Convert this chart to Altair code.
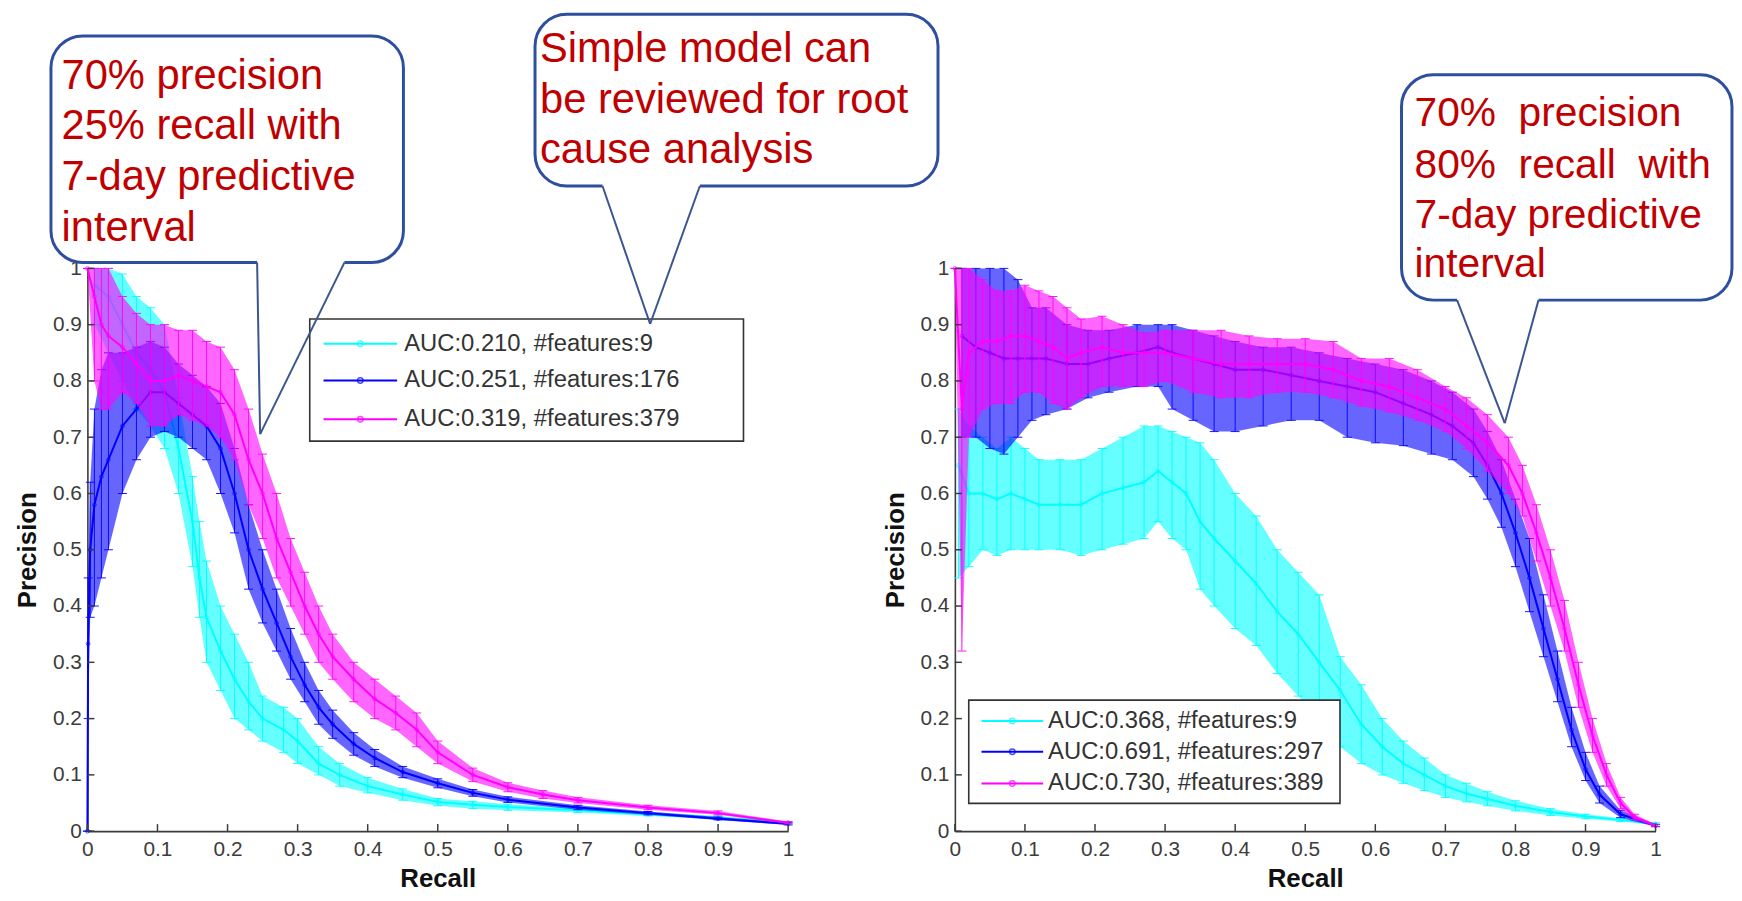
import altair as alt
import pandas as pd

# ---------------- data ----------------
SERIES = ["s9", "s_mid", "s_all"]
COLORS = ["#00FFFF", "#0000FF", "#FF00FF"]

LEFT_LABELS = ["AUC:0.210, #features:9", "AUC:0.251, #features:176", "AUC:0.319, #features:379"]
RIGHT_LABELS = ["AUC:0.368, #features:9", "AUC:0.691, #features:297", "AUC:0.730, #features:389"]

TICKS = [0, 0.1, 0.2, 0.3, 0.4, 0.5, 0.6, 0.7, 0.8, 0.9, 1]

# Left panel, cyan (9 features)
L1_R = [0.01, 0.03, 0.05, 0.07, 0.09, 0.11, 0.13, 0.15, 0.16, 0.17, 0.19, 0.21, 0.23, 0.25, 0.28, 0.30, 0.33, 0.36, 0.40, 0.45, 0.50, 0.55, 0.60, 0.70, 0.80, 0.90, 1.00]
L1_M = [0.97, 0.95, 0.90, 0.85, 0.82, 0.78, 0.68, 0.55, 0.45, 0.38, 0.32, 0.27, 0.23, 0.20, 0.18, 0.16, 0.12, 0.10, 0.08, 0.065, 0.052, 0.047, 0.043, 0.037, 0.030, 0.024, 0.015]
L1_LO = [0.90, 0.85, 0.80, 0.75, 0.72, 0.68, 0.60, 0.47, 0.38, 0.30, 0.25, 0.20, 0.18, 0.16, 0.14, 0.12, 0.10, 0.08, 0.068, 0.055, 0.045, 0.040, 0.037, 0.033, 0.027, 0.021, 0.013]
L1_HI = [1.00, 1.00, 0.99, 0.95, 0.93, 0.90, 0.77, 0.63, 0.55, 0.48, 0.40, 0.35, 0.30, 0.24, 0.22, 0.20, 0.15, 0.12, 0.095, 0.075, 0.058, 0.053, 0.048, 0.041, 0.034, 0.027, 0.017]

# Left panel, blue (176 features)
L2_R = [0.0, 0.001, 0.004, 0.01, 0.02, 0.03, 0.05, 0.07, 0.09, 0.11, 0.13, 0.15, 0.17, 0.19, 0.21, 0.23, 0.25, 0.27, 0.29, 0.31, 0.33, 0.35, 0.38, 0.41, 0.45, 0.50, 0.55, 0.60, 0.70, 0.80, 0.90, 1.00]
L2_M = [0.0, 0.333, 0.50, 0.58, 0.63, 0.66, 0.72, 0.75, 0.78, 0.78, 0.76, 0.74, 0.72, 0.68, 0.60, 0.50, 0.43, 0.37, 0.31, 0.26, 0.22, 0.19, 0.155, 0.13, 0.105, 0.085, 0.068, 0.056, 0.042, 0.032, 0.022, 0.013]
L2_LO = [0.0, 0.20, 0.38, 0.40, 0.45, 0.50, 0.60, 0.66, 0.70, 0.71, 0.70, 0.68, 0.66, 0.60, 0.53, 0.43, 0.37, 0.32, 0.27, 0.23, 0.19, 0.165, 0.135, 0.115, 0.095, 0.077, 0.062, 0.051, 0.038, 0.029, 0.020, 0.011]
L2_HI = [0.0, 0.45, 0.62, 0.75, 0.82, 0.85, 0.85, 0.86, 0.87, 0.86, 0.83, 0.81, 0.79, 0.76, 0.68, 0.58, 0.50, 0.43, 0.36, 0.30, 0.25, 0.215, 0.175, 0.145, 0.115, 0.093, 0.074, 0.061, 0.046, 0.035, 0.025, 0.015]

# Left panel, magenta (379 features)
L3_R = [0.0, 0.01, 0.02, 0.03, 0.05, 0.07, 0.09, 0.11, 0.13, 0.15, 0.17, 0.19, 0.21, 0.23, 0.25, 0.27, 0.29, 0.31, 0.33, 0.35, 0.38, 0.41, 0.44, 0.47, 0.50, 0.55, 0.60, 0.65, 0.70, 0.80, 0.90, 1.00]
L3_M = [1.0, 0.95, 0.90, 0.88, 0.86, 0.83, 0.80, 0.80, 0.81, 0.80, 0.79, 0.78, 0.74, 0.66, 0.60, 0.52, 0.46, 0.40, 0.35, 0.31, 0.27, 0.235, 0.21, 0.18, 0.14, 0.10, 0.078, 0.065, 0.055, 0.042, 0.032, 0.015]
L3_LO = [1.0, 0.80, 0.75, 0.75, 0.78, 0.76, 0.72, 0.72, 0.74, 0.73, 0.72, 0.70, 0.66, 0.58, 0.52, 0.45, 0.40, 0.35, 0.30, 0.27, 0.23, 0.20, 0.18, 0.15, 0.12, 0.088, 0.070, 0.058, 0.050, 0.038, 0.029, 0.013]
L3_HI = [1.0, 1.00, 1.00, 1.00, 0.95, 0.92, 0.90, 0.90, 0.89, 0.89, 0.87, 0.86, 0.82, 0.75, 0.67, 0.60, 0.52, 0.46, 0.40, 0.35, 0.30, 0.27, 0.24, 0.21, 0.16, 0.112, 0.086, 0.072, 0.060, 0.046, 0.036, 0.017]

# Right panel, cyan (9 features)
R1_R = [0.005, 0.02, 0.04, 0.06, 0.08, 0.10, 0.12, 0.15, 0.18, 0.21, 0.24, 0.27, 0.29, 0.31, 0.33, 0.35, 0.37, 0.40, 0.43, 0.46, 0.49, 0.52, 0.55, 0.58, 0.61, 0.64, 0.67, 0.70, 0.73, 0.76, 0.80, 0.85, 0.90, 0.95, 1.00]
R1_M = [0.65, 0.60, 0.60, 0.59, 0.60, 0.59, 0.58, 0.58, 0.58, 0.60, 0.61, 0.62, 0.64, 0.62, 0.60, 0.55, 0.52, 0.48, 0.44, 0.39, 0.35, 0.30, 0.25, 0.19, 0.15, 0.12, 0.10, 0.08, 0.067, 0.057, 0.045, 0.034, 0.026, 0.020, 0.013]
R1_LO = [0.45, 0.47, 0.50, 0.49, 0.50, 0.50, 0.50, 0.50, 0.49, 0.50, 0.51, 0.52, 0.55, 0.52, 0.50, 0.43, 0.40, 0.36, 0.33, 0.28, 0.24, 0.20, 0.15, 0.12, 0.10, 0.085, 0.072, 0.060, 0.052, 0.045, 0.036, 0.028, 0.022, 0.017, 0.011]
R1_HI = [0.75, 0.72, 0.70, 0.68, 0.70, 0.68, 0.66, 0.66, 0.66, 0.68, 0.70, 0.72, 0.72, 0.71, 0.70, 0.69, 0.66, 0.60, 0.56, 0.50, 0.46, 0.42, 0.31, 0.26, 0.20, 0.16, 0.13, 0.10, 0.085, 0.07, 0.054, 0.040, 0.030, 0.023, 0.015]

# Right panel, blue (297 features)
R2_R = [0.01, 0.03, 0.05, 0.07, 0.09, 0.11, 0.13, 0.16, 0.19, 0.22, 0.26, 0.29, 0.31, 0.34, 0.37, 0.40, 0.44, 0.48, 0.52, 0.56, 0.60, 0.64, 0.68, 0.71, 0.74, 0.76, 0.78, 0.80, 0.82, 0.84, 0.86, 0.88, 0.90, 0.92, 0.95, 1.00]
R2_M = [0.88, 0.86, 0.85, 0.84, 0.84, 0.84, 0.84, 0.83, 0.83, 0.84, 0.85, 0.86, 0.85, 0.84, 0.83, 0.82, 0.82, 0.81, 0.80, 0.79, 0.78, 0.76, 0.74, 0.72, 0.69, 0.65, 0.60, 0.53, 0.45, 0.36, 0.27, 0.18, 0.11, 0.065, 0.030, 0.010]
R2_LO = [0.70, 0.70, 0.68, 0.67, 0.70, 0.73, 0.74, 0.75, 0.77, 0.78, 0.79, 0.79, 0.75, 0.73, 0.71, 0.71, 0.72, 0.73, 0.73, 0.70, 0.69, 0.685, 0.67, 0.66, 0.63, 0.59, 0.54, 0.47, 0.39, 0.31, 0.23, 0.15, 0.09, 0.05, 0.024, 0.008]
R2_HI = [1.00, 1.00, 1.00, 1.00, 0.98, 0.93, 0.93, 0.90, 0.89, 0.89, 0.90, 0.90, 0.90, 0.89, 0.88, 0.87, 0.86, 0.86, 0.85, 0.84, 0.83, 0.82, 0.80, 0.78, 0.75, 0.71, 0.66, 0.59, 0.52, 0.42, 0.32, 0.22, 0.14, 0.08, 0.037, 0.012]

# Right panel, magenta (389 features)
R3_R = [0.0, 0.01, 0.02, 0.04, 0.06, 0.08, 0.10, 0.12, 0.14, 0.16, 0.18, 0.21, 0.24, 0.27, 0.30, 0.34, 0.38, 0.42, 0.46, 0.50, 0.54, 0.58, 0.62, 0.66, 0.70, 0.73, 0.76, 0.79, 0.81, 0.83, 0.85, 0.87, 0.89, 0.91, 0.93, 0.95, 0.97, 1.00]
R3_M = [1.0, 0.75, 0.85, 0.87, 0.87, 0.88, 0.88, 0.87, 0.86, 0.84, 0.85, 0.86, 0.85, 0.85, 0.85, 0.84, 0.83, 0.83, 0.83, 0.83, 0.82, 0.80, 0.79, 0.77, 0.75, 0.72, 0.69, 0.65, 0.60, 0.53, 0.45, 0.36, 0.26, 0.17, 0.10, 0.05, 0.025, 0.010]
R3_LO = [1.0, 0.32, 0.70, 0.75, 0.76, 0.76, 0.78, 0.78, 0.76, 0.75, 0.77, 0.79, 0.79, 0.79, 0.80, 0.78, 0.77, 0.77, 0.78, 0.78, 0.77, 0.755, 0.745, 0.73, 0.71, 0.68, 0.64, 0.60, 0.56, 0.48, 0.40, 0.32, 0.22, 0.14, 0.08, 0.04, 0.02, 0.008]
R3_HI = [1.0, 1.00, 1.00, 0.98, 0.96, 0.96, 0.97, 0.96, 0.95, 0.93, 0.91, 0.915, 0.90, 0.885, 0.89, 0.89, 0.89, 0.88, 0.875, 0.875, 0.87, 0.84, 0.84, 0.82, 0.79, 0.77, 0.74, 0.70, 0.65, 0.58, 0.50, 0.41, 0.30, 0.20, 0.12, 0.06, 0.03, 0.012]

# ---------------- annotation text ----------------
LEFT_NOTE = ["70% precision", "25% recall with", "7-day predictive", "interval"]
MID_NOTE = ["Simple model can", "be reviewed for root", "cause analysis"]
RIGHT_NOTE = ["70%\u00a0\u00a0precision", "80%\u00a0\u00a0recall\u00a0\u00a0with", "7-day predictive", "interval"]

# annotation placement, in the panels' own data units (recall, precision)
LEFT_CALLOUT = dict(box=(-0.052, 0.451, 1.0106, 1.413), base=(0.2422, 0.3669), tip=(0.2465, 0.7055),
                    tx=-0.037, ty=[1.3192, 1.2293, 1.1393, 1.0494])
MID_CALLOUT = dict(box=(0.6388, 1.2139, 1.1464, 1.4515), base=(0.7351, 0.874), tip=(0.8031, 0.9012),
                   tx=0.6459, ty=[1.3668, 1.2769, 1.1869])
RIGHT_CALLOUT = dict(box=(0.6374, 1.109, 0.9436, 1.344), base=(0.7167, 0.8329), tip=(0.7847, 0.7249),
                     tx=0.656, ty=[1.2522, 1.1605, 1.0723, 0.9841])
LEFT_LEGEND = dict(box=(0.3173, 0.9363, 0.693, 0.910), rows=[0.866, 0.8007, 0.732],
                   line=(0.337, 0.442), mark=0.3895, tx=0.452)
RIGHT_LEGEND = dict(box=(0.0198, 0.5496, 0.0494, 0.2328), rows=[0.1958, 0.1411, 0.0847],
                    line=(0.038, 0.126), mark=0.082, tx=0.133)

# ---------------- styling ----------------
SANS = "Liberation Sans, Arial, sans-serif"
NOTE_RED = "#C00000"
NAVY = "#2E4E9E"
AXIS_GRAY = "#3c3c3c"

XS = alt.Scale(domain=[0, 1], nice=False, zero=False)
YS = alt.Scale(domain=[0, 1], nice=False, zero=False)

X_AXIS = alt.Axis(values=TICKS, format="~g", title="Recall", grid=False, ticks=False,
                  domainColor=AXIS_GRAY, domainWidth=1.6, labelFont=SANS, labelFontSize=21,
                  labelColor=AXIS_GRAY, labelPadding=8, labelFlush=False, labelOverlap=False,
                  titleFont=SANS, titleFontSize=26, titleFontWeight="bold", titleColor="#111111",
                  titlePadding=6)
Y_AXIS = alt.Axis(values=TICKS, format="~g", title="Precision", grid=False, ticks=False,
                  domainColor=AXIS_GRAY, domainWidth=1.6, labelFont=SANS, labelFontSize=21,
                  labelColor=AXIS_GRAY, labelPadding=6, labelFlush=False, labelOverlap=False,
                  titleFont=SANS, titleFontSize=26, titleFontWeight="bold", titleColor="#111111",
                  titlePadding=12)


def X(f):
    return alt.X(f, type="quantitative", scale=XS, axis=X_AXIS)


def Y(f):
    return alt.Y(f, type="quantitative", scale=YS, axis=Y_AXIS)


def series_layers(r, m, lo, hi, color):
    df = pd.DataFrame({"recall": r, "mean": m, "lo": lo, "hi": hi})
    base = alt.Chart(df)
    area = base.mark_area(color=color, opacity=0.6).encode(
        x=X("recall"), y=Y("lo"), y2=alt.Y2("hi"))
    bars = base.mark_errorbar(color=color, opacity=0.9, thickness=1, ticks={"size": 9}).encode(
        x=X("recall"), y=Y("lo"), y2=alt.Y2("hi"))
    line = base.mark_line(color=color, strokeWidth=2).encode(x=X("recall"), y=Y("mean"))
    pts = base.mark_point(color=color, shape="circle", size=14, filled=False, strokeWidth=1).encode(
        x=X("recall"), y=Y("mean"))
    return [area, bars, line, pts]


def inner_ticks():
    tx = pd.DataFrame({"v": TICKS, "a": [0.0] * len(TICKS), "b": [0.0125] * len(TICKS)})
    xt = alt.Chart(tx).mark_rule(color=AXIS_GRAY, strokeWidth=1.5).encode(
        x=X("v"), y=Y("a"), y2=alt.Y2("b"))
    ty = pd.DataFrame({"v": TICKS, "a": [0.0] * len(TICKS), "b": [0.01] * len(TICKS)})
    yt = alt.Chart(ty).mark_rule(color=AXIS_GRAY, strokeWidth=1.5).encode(
        y=Y("v"), x=X("a"), x2=alt.X2("b"))
    return [xt, yt]


def legend_layers(g, labels):
    x0, x1, y0, y1 = g["box"]
    box = alt.Chart(pd.DataFrame({"x0": [x0], "x1": [x1], "y0": [y0], "y1": [y1]})).mark_rect(
        fill="white", stroke="#333333", strokeWidth=1.6).encode(
        x=X("x0"), x2=alt.X2("x1"), y=Y("y0"), y2=alt.Y2("y1"))
    cs = alt.Scale(domain=SERIES, range=COLORS)
    rows = pd.DataFrame({"s": SERIES, "label": labels, "y": g["rows"],
                         "l0": [g["line"][0]] * 3, "l1": [g["line"][1]] * 3,
                         "mk": [g["mark"]] * 3, "tx": [g["tx"]] * 3})
    rb = alt.Chart(rows)
    lines = rb.mark_rule(strokeWidth=2).encode(
        x=X("l0"), x2=alt.X2("l1"), y=Y("y"), color=alt.Color("s:N", scale=cs, legend=None))
    marks = rb.mark_point(shape="circle", size=30, filled=False, strokeWidth=1.5).encode(
        x=X("mk"), y=Y("y"), color=alt.Color("s:N", scale=cs, legend=None))
    text = rb.mark_text(align="left", baseline="middle", font=SANS, fontSize=24, color="#333333").encode(
        x=X("tx"), y=Y("y"), text="label:N")
    return [box, lines, marks, text]


def callout_layers(g, lines, size):
    x0, x1, y0, y1 = g["box"]
    b0, b1 = g["base"]
    tx, ty = g["tip"]
    box = alt.Chart(pd.DataFrame({"x0": [x0], "x1": [x1], "y0": [y0], "y1": [y1]})).mark_rect(
        fill="white", stroke=NAVY, strokeWidth=3, cornerRadius=32).encode(
        x=X("x0"), x2=alt.X2("x1"), y=Y("y0"), y2=alt.Y2("y1"))
    gap = alt.Chart(pd.DataFrame({"a": [b0], "b": [b1], "y": [y0]})).mark_rule(
        color="white", strokeWidth=5).encode(x=X("a"), x2=alt.X2("b"), y=Y("y"))
    ptr = alt.Chart(pd.DataFrame({"xa": [b0, b1], "ya": [y0, y0], "xb": [tx, tx], "yb": [ty, ty]})).mark_rule(
        color="#3A5590", strokeWidth=2).encode(x=X("xa"), y=Y("ya"), x2=alt.X2("xb"), y2=alt.Y2("yb"))
    tdf = pd.DataFrame({"t": lines, "x": [g["tx"]] * len(lines), "y": g["ty"]})
    text = alt.Chart(tdf).mark_text(align="left", baseline="alphabetic", font=SANS, fontSize=size,
                                    color=NOTE_RED).encode(x=X("x"), y=Y("y"), text="t:N")
    return [box, gap, ptr, text]


left_layers = []
left_layers += series_layers(L1_R, L1_M, L1_LO, L1_HI, COLORS[0])
left_layers += series_layers(L2_R, L2_M, L2_LO, L2_HI, COLORS[1])
left_layers += series_layers(L3_R, L3_M, L3_LO, L3_HI, COLORS[2])
left_layers += inner_ticks()
left_layers += legend_layers(LEFT_LEGEND, LEFT_LABELS)
left_layers += callout_layers(LEFT_CALLOUT, LEFT_NOTE, 42)
left_layers += callout_layers(MID_CALLOUT, MID_NOTE, 42)
left = alt.layer(*left_layers).properties(width=706, height=567)

right_layers = []
right_layers += series_layers(R1_R, R1_M, R1_LO, R1_HI, COLORS[0])
right_layers += series_layers(R2_R, R2_M, R2_LO, R2_HI, COLORS[1])
right_layers += series_layers(R3_R, R3_M, R3_LO, R3_HI, COLORS[2])
right_layers += inner_ticks()
right_layers += legend_layers(RIGHT_LEGEND, RIGHT_LABELS)
right_layers += callout_layers(RIGHT_CALLOUT, RIGHT_NOTE, 41)
right = alt.layer(*right_layers).properties(width=706, height=567)

chart = alt.hconcat(left, right, spacing=168).properties(
    bounds="flush",
    padding={"left": 6, "top": 1, "right": 0, "bottom": 0},
    background="white",
).configure_view(strokeWidth=0)

chart.save("out.html", embed_options={"renderer": "svg", "actions": False})
